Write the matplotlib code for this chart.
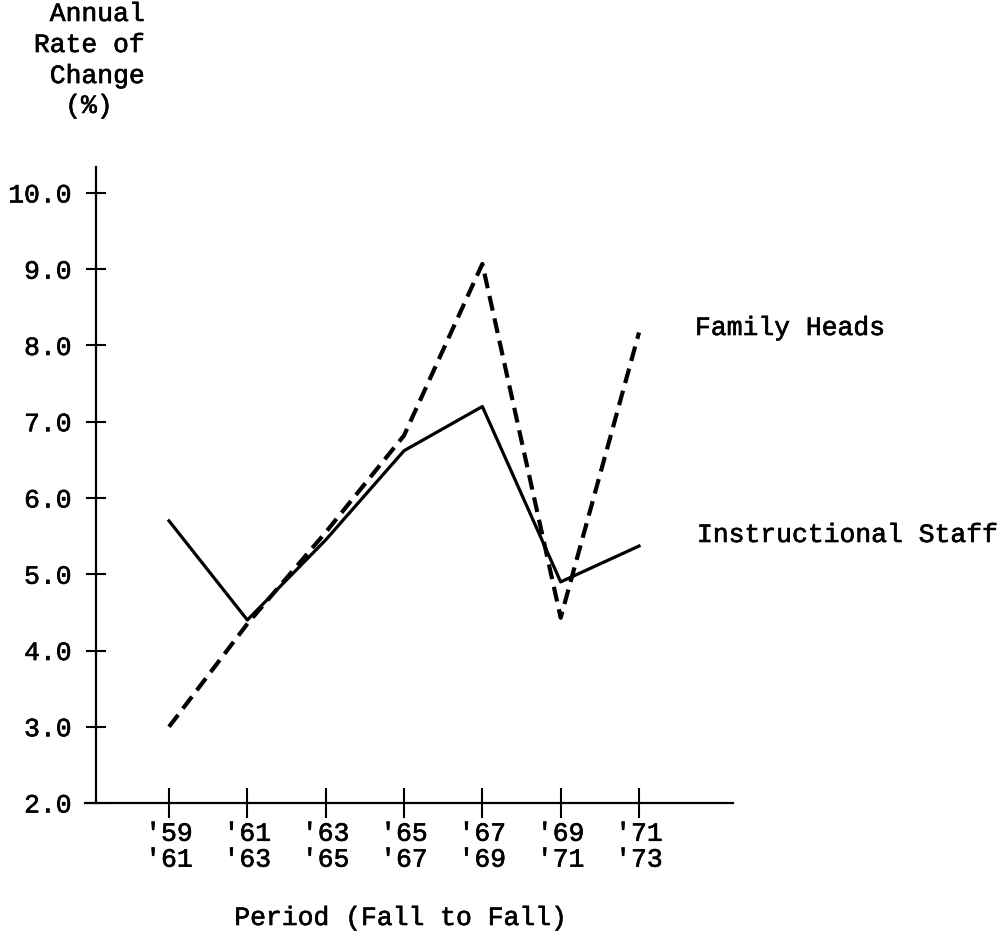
import matplotlib
matplotlib.use("Agg")
import matplotlib.pyplot as plt
import matplotlib.patheffects as pe

# ---------------------------------------------------------------------------
# Data
# ---------------------------------------------------------------------------
periods = ["'59\n'61", "'61\n'63", "'63\n'65", "'65\n'67", "'67\n'69", "'69\n'71", "'71\n'73"]
instructional_staff = [5.70, 4.40, 5.45, 6.62, 7.20, 4.90, 5.37]
family_heads        = [3.00, 4.35, 5.55, 6.82, 9.07, 4.43, 8.17]
y_ticks = [2.0, 3.0, 4.0, 5.0, 6.0, 7.0, 8.0, 9.0, 10.0]

FONT = "Liberation Mono"
FS = 19
INK = [pe.withStroke(linewidth=0.45, foreground="black")]   # typewriter-ish weight

plt.rcParams["font.family"] = [FONT, "DejaVu Sans"]

fig = plt.figure(figsize=(10.08, 9.39), dpi=100)
ax = fig.add_axes([0.0843, 0.1448, 0.6429, 0.6773])

x = list(range(len(periods)))
ax.plot(x, instructional_staff, color="black", linewidth=2.3)
ax.plot(x, family_heads, color="black", linewidth=3.0, linestyle=(0, (3.6, 1.9)))

ax.set_xlim(-1.073, 7.2)
ax.set_ylim(2.0, 10.34)

# spines: y axis sits just right of where the x axis starts
for side in ("top", "right"):
    ax.spines[side].set_visible(False)
ax.spines["left"].set_position(("data", -0.932))
ax.spines["left"].set_linewidth(1.6)
ax.spines["bottom"].set_linewidth(1.6)

ax.set_xticks(x)
ax.set_xticklabels(periods, fontsize=FS, linespacing=1.1)
ax.set_yticks(y_ticks)
ax.set_yticklabels([f"{v:.1f}" for v in y_ticks], fontsize=FS)
ax.tick_params(axis="x", direction="inout", length=21, width=1.5, pad=3)
ax.tick_params(axis="y", direction="inout", length=15, width=1.5, pad=10)
for lbl in ax.get_xticklabels() + ax.get_yticklabels():
    lbl.set_path_effects(INK)

# series labels
ax.text(695 / 1008, 1 - 328 / 939, "Family Heads", transform=fig.transFigure,
        fontsize=FS, ha="left", va="center", path_effects=INK)
ax.text(697 / 1008, 1 - 535 / 939, "Instructional Staff", transform=fig.transFigure,
        fontsize=FS, ha="left", va="center", path_effects=INK)

# axis titles
fig.text(145 / 1008, 1 - 2 / 939, "Annual\nRate of\nChange", fontsize=FS,
         ha="right", va="top", multialignment="right", linespacing=1.37,
         path_effects=INK)
fig.text(89 / 1008, 1 - 106 / 939, "(%)", fontsize=FS, ha="center", va="center",
         path_effects=INK)
fig.text(401 / 1008, 1 - 918 / 939, "Period (Fall to Fall)", fontsize=FS,
         ha="center", va="center", path_effects=INK)

fig.savefig("out.png", dpi=100, facecolor="white")
